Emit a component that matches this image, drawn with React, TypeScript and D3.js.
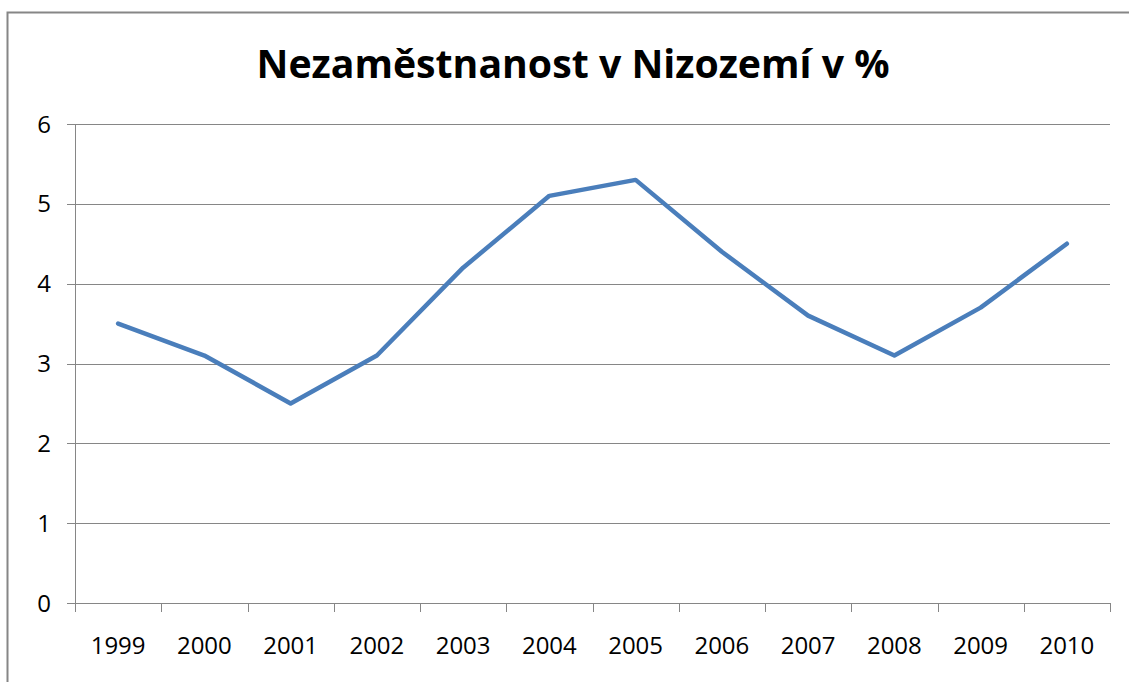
import { useRef, useEffect } from 'react';
import * as d3 from 'd3';

const years = ['1999', '2000', '2001', '2002', '2003', '2004', '2005', '2006', '2007', '2008', '2009', '2010'];
const unemployment = [3.5, 3.1, 2.5, 3.1, 4.2, 5.1, 5.3, 4.4, 3.6, 3.1, 3.7, 4.5];
const yTicks = [0, 1, 2, 3, 4, 5, 6];

const W = 1129;
const H = 682;
const PLOT = { left: 75, right: 1110, top: 124, bottom: 603 };
const FONT = 'Open Sans, sans-serif';

export default function App() {
  const svgRef = useRef<SVGSVGElement>(null);

  useEffect(() => {
    const svg = d3.select(svgRef.current);
    svg.selectAll('*').remove();

    // Chart border (runs off the right and bottom edges)
    svg.append('rect')
      .attr('x', 7.5).attr('y', 12.5)
      .attr('width', W + 20).attr('height', H + 20)
      .attr('fill', 'white').attr('stroke', '#868686').attr('stroke-width', 2);

    const title = svg.append('text')
      .attr('x', 573).attr('y', 78)
      .attr('text-anchor', 'middle')
      .attr('font-family', FONT).attr('font-weight', 'bold')
      .attr('font-size', '40px').attr('fill', '#000')
      .text('Nezaměstnanost v Nizozemí v %');
    // squeeze to Calibri-ish width
    const tl = (title.node() as SVGTextElement).getComputedTextLength();
    if (tl > 633) title.attr('textLength', 633).attr('lengthAdjust', 'spacingAndGlyphs');

    const x = d3.scaleBand().domain(years).range([PLOT.left, PLOT.right]);
    const y = d3.scaleLinear().domain([0, 6]).range([PLOT.bottom, PLOT.top]);

    // Gridlines with left tick stubs
    const g = svg.append('g');
    yTicks.forEach(t => {
      g.append('line')
        .attr('x1', PLOT.left - 8).attr('x2', PLOT.right)
        .attr('y1', Math.round(y(t)) + 0.5).attr('y2', Math.round(y(t)) + 0.5)
        .attr('stroke', '#868686').attr('stroke-width', 1);
      g.append('text')
        .attr('x', 51).attr('y', y(t))
        .attr('dy', '0.36em')
        .attr('text-anchor', 'end')
        .attr('font-family', FONT).attr('font-size', '24px').attr('fill', '#000')
        .text(t);
    });

    // Y axis line
    g.append('line')
      .attr('x1', PLOT.left + 0.5).attr('x2', PLOT.left + 0.5)
      .attr('y1', PLOT.top).attr('y2', PLOT.bottom)
      .attr('stroke', '#868686');

    // X category ticks at band boundaries
    const bounds = years.map(yr => x(yr) as number).concat([PLOT.right]);
    bounds.forEach(b => {
      g.append('line')
        .attr('x1', Math.round(b) + 0.5).attr('x2', Math.round(b) + 0.5)
        .attr('y1', PLOT.bottom).attr('y2', PLOT.bottom + 9)
        .attr('stroke', '#868686');
    });

    years.forEach(yr => {
      g.append('text')
        .attr('x', (x(yr) as number) + x.bandwidth() / 2).attr('y', 654)
        .attr('text-anchor', 'middle')
        .attr('font-family', FONT).attr('font-size', '24px').attr('fill', '#000')
        .text(yr);
    });

    const line = d3.line<number>()
      .x((_, i) => (x(years[i]) as number) + x.bandwidth() / 2)
      .y(d => y(d));

    svg.append('path')
      .datum(unemployment)
      .attr('fill', 'none')
      .attr('stroke', '#4a7ebb')
      .attr('stroke-width', 4.5)
      .attr('stroke-linejoin', 'round')
      .attr('stroke-linecap', 'round')
      .attr('d', line);
  }, []);

  return (
    <svg ref={svgRef} width={W} height={H}
      style={{ position: 'absolute', left: 0, top: 0, background: 'white' }} />
  );
}
